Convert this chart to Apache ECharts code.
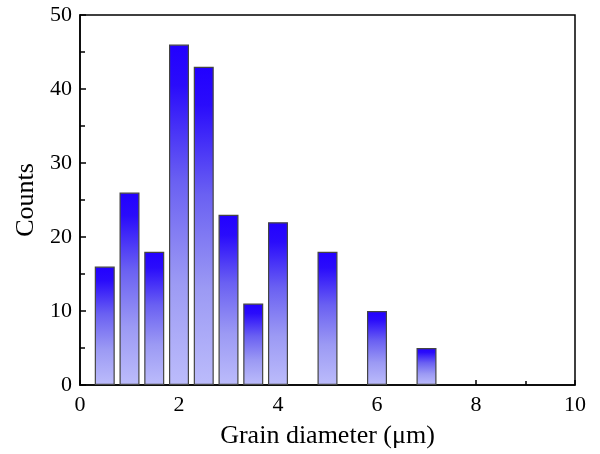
<!DOCTYPE html>
<html>
<head>
<meta charset="utf-8">
<script src="https://cdn.jsdelivr.net/npm/echarts@6/dist/echarts.min.js"></script>
<style>html,body{margin:0;padding:0;background:#fff}#c{width:600px;height:454px}</style>
</head>
<body>
<div id="c"></div>
<script>
const binCenters = [0.5, 1, 1.5, 2, 2.5, 3, 3.5, 4, 5, 6, 7];
const counts = [16, 26, 18, 46, 43, 23, 11, 22, 18, 10, 5];
const xTitle = 'Grain diameter (\u03bcm)';
const yTitle = 'Counts';

const chart = echarts.init(document.getElementById('c'), null, {renderer: 'canvas'});
const font = '"Liberation Serif", "Times New Roman", serif';
const data = binCenters.map((x, i) => [x, counts[i]]);
chart.setOption({
  animation: false,
  backgroundColor: '#fff',
  grid: {left: 80, top: 15, right: 25, bottom: 68, show: true, borderColor: '#000', borderWidth: 1.5, backgroundColor: 'transparent'},
  xAxis: {
    type: 'value', min: 0, max: 10, interval: 2,
    name: xTitle, nameLocation: 'middle', nameGap: 38,
    nameTextStyle: {fontFamily: font, fontSize: 26, color: '#000'},
    axisLine: {show: true, onZero: false, lineStyle: {color: '#000', width: 1.5}},
    axisTick: {show: true, inside: true, length: 5, lineStyle: {color: '#000', width: 1.5}},
    minorTick: {show: true, splitNumber: 2, length: 4, lineStyle: {color: '#000', width: 1.5}},
    axisLabel: {fontFamily: font, fontSize: 22, color: '#000', margin: 9},
    splitLine: {show: false}
  },
  yAxis: {
    type: 'value', min: 0, max: 50, interval: 10,
    name: yTitle, nameLocation: 'middle', nameGap: 41, nameRotate: 90,
    nameTextStyle: {fontFamily: font, fontSize: 26, color: '#000'},
    axisLine: {show: true, lineStyle: {color: '#000', width: 1.5}},
    axisTick: {show: true, inside: true, length: 6, lineStyle: {color: '#000', width: 1.5}},
    minorTick: {show: true, splitNumber: 2, length: 5, lineStyle: {color: '#000', width: 1.5}},
    axisLabel: {fontFamily: font, fontSize: 22, color: '#000', margin: 8},
    splitLine: {show: false}
  },
  series: [{
    type: 'bar',
    data: data,
    barWidth: 20,
    itemStyle: {
      borderColor: '#444',
      borderWidth: 1.2,
      color: new echarts.graphic.LinearGradient(0, 0, 0, 1, [
        {offset: 0, color: '#2200ff'},
        {offset: 0.12, color: '#2a0cfb'},
        {offset: 0.4, color: '#6a60f2'},
        {offset: 0.7, color: '#9c9af4'},
        {offset: 1, color: '#bcbcfb'}
      ])
    }
  }]
});
</script>
</body>
</html>
